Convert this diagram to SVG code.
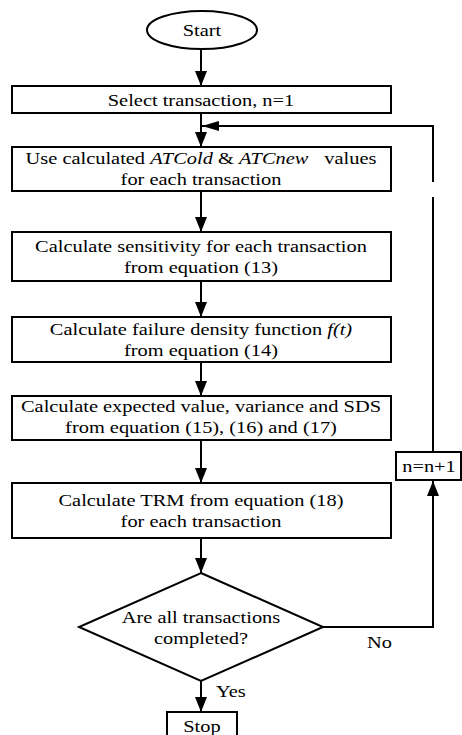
<svg xmlns="http://www.w3.org/2000/svg" width="462" height="735" viewBox="0 0 462 735">
<style>
.box{fill:#fff;stroke:#000;stroke-width:2}
.t{font-family:"Liberation Serif","Times New Roman",serif;font-size:17px;fill:#000;text-anchor:middle}
.l{font-family:"Liberation Serif","Times New Roman",serif;font-size:17px;fill:#000}
.c{fill:none;stroke:#000;stroke-width:2}
.i{font-style:italic}
</style>
<defs>
<marker id="ah" markerUnits="userSpaceOnUse" markerWidth="15" markerHeight="12" refX="15" refY="6" orient="auto">
<path d="M0,0 L15,6 L0,12 z" fill="#000"/>
</marker>
<marker id="ahf" markerUnits="userSpaceOnUse" markerWidth="17" markerHeight="10" refX="17" refY="5" orient="auto">
<path d="M0,0 L17,5 L0,10 z" fill="#000"/>
</marker>
</defs>
<g id="connectors">
<line class="c" x1="201" y1="49" x2="201" y2="86" marker-end="url(#ah)"/>
<line class="c" x1="201" y1="113" x2="201" y2="147" marker-end="url(#ah)"/>
<line class="c" x1="201" y1="191" x2="201" y2="232" marker-end="url(#ah)"/>
<line class="c" x1="201" y1="281" x2="201" y2="317" marker-end="url(#ah)"/>
<line class="c" x1="201" y1="362" x2="201" y2="396" marker-end="url(#ah)"/>
<line class="c" x1="201" y1="440" x2="201" y2="483" marker-end="url(#ah)"/>
<line class="c" x1="201" y1="538" x2="201" y2="573" marker-end="url(#ah)"/>
<line class="c" x1="201" y1="681" x2="201" y2="712" marker-end="url(#ah)"/>
<polyline class="c" points="323,627 433,627 433,481" marker-end="url(#ah)"/>
<line class="c" x1="433" y1="452" x2="433" y2="197"/>
<polyline class="c" points="433,182 433,126 202,126" marker-end="url(#ahf)"/>
<text class="l" x="305.8" y="648" transform="scale(1.2,1)">No</text>
<text class="l" x="180" y="697" transform="scale(1.2,1)">Yes</text>
</g>
<g id="start">
<ellipse class="box" cx="202" cy="30" rx="55" ry="19"/>
<text class="t" x="168.3" y="36" transform="scale(1.2,1)">Start</text>
</g>
<g id="select">
<rect class="box" x="12" y="86" width="379" height="27"/>
<text class="t" x="167.5" y="106" transform="scale(1.2,1)">Select transaction, n=1</text>
</g>
<g id="use">
<rect class="box" x="12" y="147" width="379" height="44"/>
<text class="t" x="167.5" y="164" transform="scale(1.2,1)">Use calculated <tspan class="i">ATCold</tspan> &amp; <tspan class="i">ATCnew</tspan> <tspan dx="9">values</tspan></text>
<text class="t" x="167.5" y="185" transform="scale(1.2,1)">for each transaction</text>
</g>
<g id="sensitivity">
<rect class="box" x="12" y="232" width="379" height="49"/>
<text class="t" x="167.5" y="252" transform="scale(1.2,1)">Calculate sensitivity for each transaction</text>
<text class="t" x="167.5" y="273" transform="scale(1.2,1)">from equation (13)</text>
</g>
<g id="failure">
<rect class="box" x="12" y="317" width="379" height="45"/>
<text class="t" x="167.5" y="335" transform="scale(1.2,1)">Calculate failure density function <tspan class="i">f(t)</tspan></text>
<text class="t" x="167.5" y="356" transform="scale(1.2,1)">from equation (14)</text>
</g>
<g id="expected">
<rect class="box" x="12" y="396" width="379" height="44"/>
<text class="t" x="167.5" y="412" transform="scale(1.2,1)">Calculate expected value, variance and SDS</text>
<text class="t" x="167.5" y="433" transform="scale(1.2,1)">from equation (15), (16) and (17)</text>
</g>
<g id="trm">
<rect class="box" x="12" y="483" width="379" height="55"/>
<text class="t" x="167.5" y="506" transform="scale(1.2,1)">Calculate TRM from equation (18)</text>
<text class="t" x="167.5" y="527" transform="scale(1.2,1)">for each transaction</text>
</g>
<g id="decision">
<polygon class="box" points="201,573 323,627 201,681 79,627"/>
<text class="t" x="167.5" y="623" transform="scale(1.2,1)">Are all transactions</text>
<text class="t" x="167.5" y="644" transform="scale(1.2,1)">completed?</text>
</g>
<g id="increment">
<rect class="box" x="396" y="452" width="65" height="28"/>
<text class="t" x="357.5" y="472" transform="scale(1.2,1)">n=n+1</text>
</g>
<g id="stop">
<rect class="box" x="167" y="712" width="70" height="30"/>
<text class="t" x="168.3" y="732" transform="scale(1.2,1)">Stop</text>
</g>
</svg>
